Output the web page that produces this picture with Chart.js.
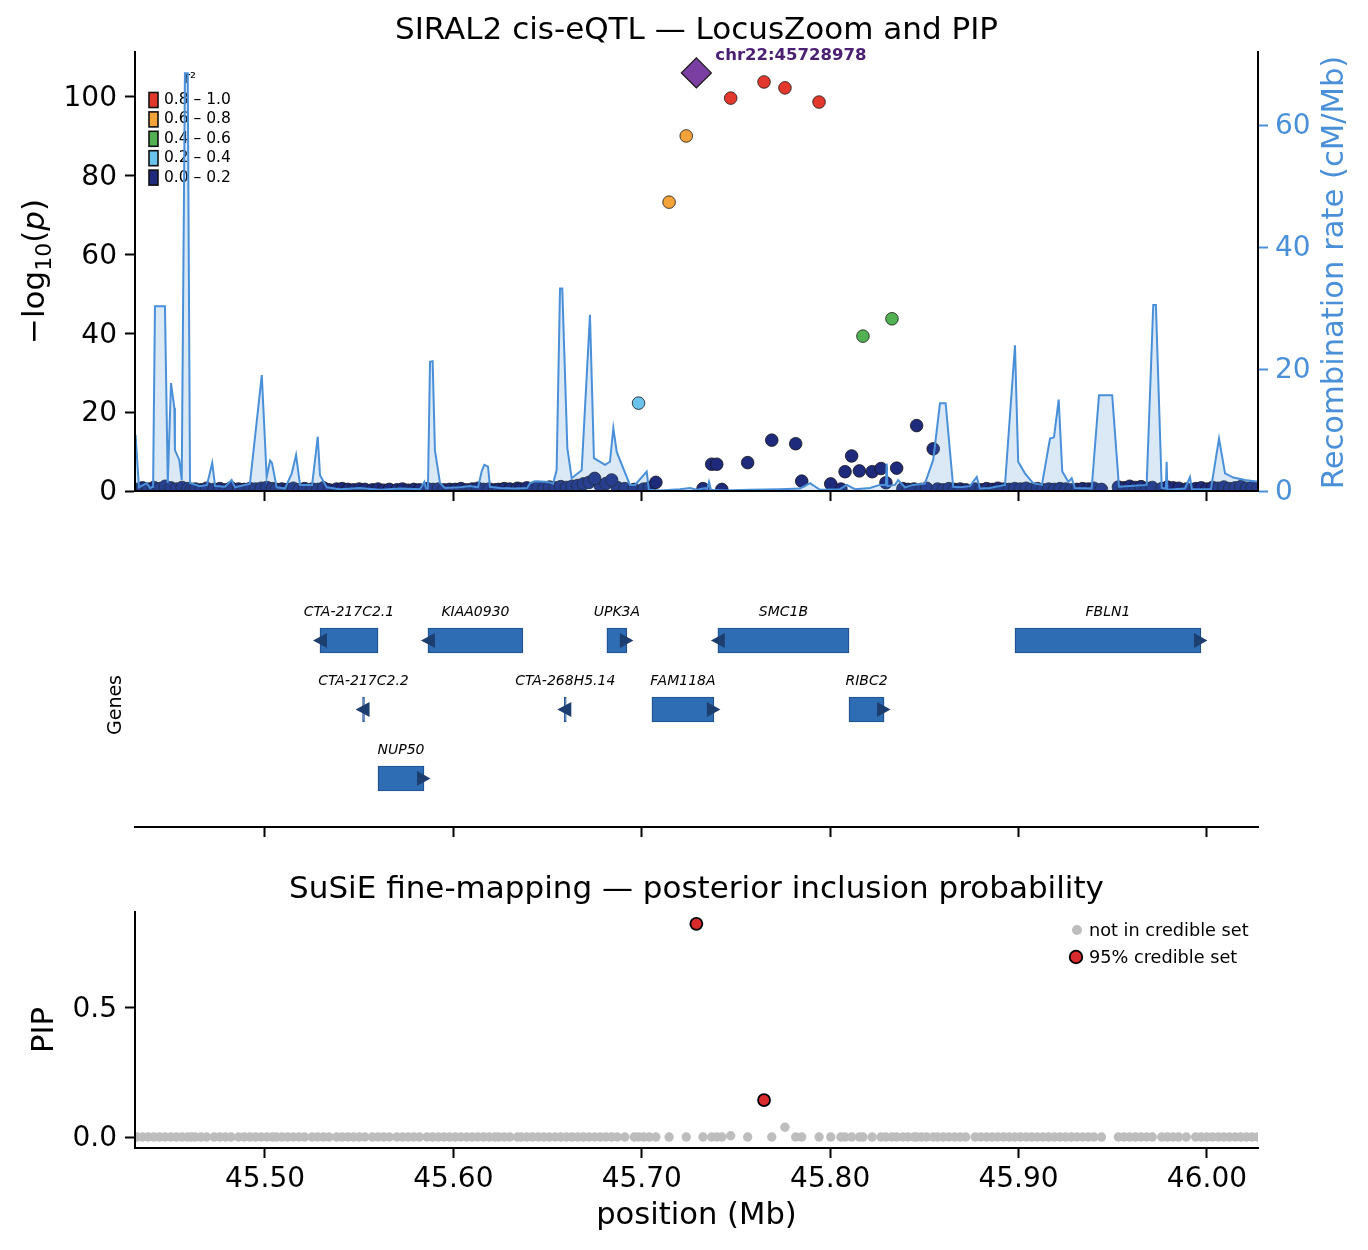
<!DOCTYPE html>
<html>
<head>
<meta charset="utf-8">
<title>SIRAL2 cis-eQTL — LocusZoom and PIP</title>
<script src="https://cdn.jsdelivr.net/npm/chart.js@4.4.1/dist/chart.umd.min.js"></script>
<style>
  html, body { margin: 0; padding: 0; background: #fff; }
  #wrap { position: relative; width: 1368px; height: 1250px; overflow: hidden; }
  #wrap canvas { position: absolute; left: 0; }
  #c-top   { top: 0; }
  #c-genes { top: 540px; }
  #c-pip   { top: 840px; }
</style>
</head>
<body>
<div id="wrap">
  <canvas id="c-top"   width="1368" height="540"></canvas>
  <canvas id="c-genes" width="1368" height="300"></canvas>
  <canvas id="c-pip"   width="1368" height="410"></canvas>
</div>
<script>
/* ── Ejes y ticks ─────────────────────────────────────────── */
const X_MIN = 45.431, X_MAX = 46.0271;
const X_TICKS      = [45.5, 45.6, 45.7, 45.8, 45.9, 46.0];
const LOGP_TICKS   = [0, 20, 40, 60, 80, 100];
const RECOMB_TICKS = [0, 20, 40, 60];
const PIP_TICKS    = [0, 0.5];

/* ── SNP principal y conjunto creíble ─────────────────────── */
const LEAD_ID   = 'chr22:45728978';
const LEAD_POS  = 45.728978;
const LEAD_LOGP = 106.1;
const LEAD_PIP  = 0.826;
const CS_POS    = [45.728978, 45.7649];

/* ── SNPs (posición Mb, -log10 p, r², PIP) ────────────────── */
const SNP_POS = [
  45.432, 45.435, 45.438, 45.441, 45.444, 45.447, 45.450, 45.453, 45.456, 45.459, 45.461,
  45.463, 45.466, 45.469, 45.473, 45.476, 45.479, 45.482, 45.486, 45.489, 45.492, 45.495, 45.498, 45.501, 45.504, 45.506,
  45.509, 45.512, 45.515, 45.518, 45.521, 45.525, 45.528, 45.531, 45.534, 45.538, 45.541, 45.544, 45.547, 45.550, 45.553,
  45.557, 45.560, 45.563, 45.566, 45.570, 45.573, 45.576, 45.579, 45.582, 45.586, 45.589, 45.592, 45.595, 45.598,
  45.601, 45.604, 45.607, 45.610, 45.613, 45.616, 45.619, 45.622,
  45.624, 45.627, 45.630, 45.634,
  45.636, 45.639, 45.642, 45.645, 45.648, 45.651, 45.654, 45.657, 45.660, 45.663, 45.666, 45.669, 45.672, 45.675, 45.678, 45.681, 45.684, 45.687,
  45.691, 45.696, 45.6983, 45.701, 45.704,
  45.7075, 45.7145, 45.7236, 45.7325, 45.7371, 45.7398, 45.7425, 45.7472, 45.7562, 45.7649, 45.7690, 45.7760, 45.7817, 45.7849, 45.7941, 45.8003,
  45.8057, 45.8079, 45.8114, 45.8155, 45.8174, 45.8223, 45.8270, 45.8296, 45.8328, 45.8353, 45.8386, 45.8413,
  45.8445, 45.8459, 45.8485, 45.8512, 45.8547, 45.8570, 45.8600, 45.8630, 45.8660, 45.8690, 45.8720,
  45.877, 45.880, 45.883, 45.886, 45.889, 45.892, 45.895, 45.898,
  45.901, 45.904, 45.907, 45.910, 45.913, 45.916, 45.919, 45.922, 45.925, 45.928, 45.931, 45.934, 45.937, 45.940, 45.944,
  45.953, 45.956, 45.959, 45.962, 45.965, 45.968, 45.971, 45.976, 45.979, 45.982, 45.985, 45.989,
  45.994, 45.997, 46.000, 46.003, 46.006, 46.009, 46.012, 46.015, 46.018, 46.021, 46.024, 46.027,
];
const SNP_LOGP = [
  0.4, 0.8, 0.5, 0.9, 0.6, 1.2, 0.8, 0.5, 0.9, 0.6, 0.4,
  0.5, 0.3, 0.7, 0.4, 0.6, 0.3, 0.8, 0.5, 0.4, 0.6, 0.5, 0.7, 0.9, 0.6, 0.4,
  0.5, 0.4, 0.7, 0.3, 0.6, 0.5, 0.4, 0.8, 0.3, 0.5, 0.6, 0.4, 0.3, 0.5, 0.4,
  0.3, 0.5, 0.2, 0.4, 0.3, 0.5, 0.2, 0.4, 0.3, 0.6, 0.4, 0.5, 0.3, 0.4,
  0.4, 0.6, 0.3, 0.5, 0.7, 0.4, 0.5, 0.3,
  0.4, 0.6, 0.5, 0.7,
  0.5, 0.8, 0.6, 0.9, 0.7, 1.0, 0.8, 1.1, 0.9, 1.2, 1.4, 1.8, 2.2, 3.2, 1.3, 1.9, 2.8, 0.9,
  0.6, 0.4, 22.3, 0.5, 0.8,
  2.2, 73.3, 90.1, 0.6, 6.8, 6.8, 0.4, 99.7, 7.2, 103.8, 12.9, 102.3, 12.0, 2.5, 98.7, 1.8,
  0.5, 4.9, 8.9, 5.1, 39.3, 4.9, 5.7, 2.1, 43.7, 5.8, 0.6, 0.4,
  0.5, 16.6, 0.4, 0.7, 10.7, 0.5, 0.3, 0.6, 0.4, 0.5, 0.3,
  0.5, 0.3, 0.6, 0.4, 0.7, 0.5, 0.4, 0.6,
  0.5, 0.7, 0.4, 0.6, 0.3, 0.5, 0.4, 0.6, 0.5, 0.3, 0.4, 0.6, 0.5, 0.7, 0.4,
  1.0, 0.8, 1.2, 0.9, 1.1, 0.7, 0.9, 0.6, 1.0, 0.8, 0.7, 0.5,
  0.6, 0.8, 0.5, 0.9, 0.7, 1.0, 0.6, 0.8, 1.1, 0.7, 0.9, 0.6,
];
const SNP_R2 = [
  0.05, 0.05, 0.05, 0.05, 0.05, 0.05, 0.05, 0.05, 0.05, 0.05, 0.05,
  0.05, 0.05, 0.05, 0.05, 0.05, 0.05, 0.05, 0.05, 0.05, 0.05, 0.05, 0.05, 0.05, 0.05, 0.05,
  0.05, 0.05, 0.05, 0.05, 0.05, 0.05, 0.05, 0.05, 0.05, 0.05, 0.05, 0.05, 0.05, 0.05, 0.05,
  0.05, 0.05, 0.05, 0.05, 0.05, 0.05, 0.05, 0.05, 0.05, 0.05, 0.05, 0.05, 0.05, 0.05,
  0.05, 0.05, 0.05, 0.05, 0.05, 0.05, 0.05, 0.05,
  0.05, 0.05, 0.05, 0.05,
  0.05, 0.05, 0.05, 0.05, 0.05, 0.05, 0.05, 0.05, 0.05, 0.05, 0.05, 0.05, 0.05, 0.08, 0.05, 0.05, 0.08, 0.05,
  0.05, 0.05, 0.30, 0.05, 0.05,
  0.10, 0.70, 0.70, 0.05, 0.10, 0.10, 0.05, 0.90, 0.10, 0.90, 0.12, 0.90, 0.12, 0.10, 0.90, 0.10,
  0.05, 0.10, 0.10, 0.10, 0.50, 0.10, 0.10, 0.10, 0.50, 0.10, 0.05, 0.05,
  0.05, 0.15, 0.05, 0.05, 0.15, 0.05, 0.05, 0.05, 0.05, 0.05, 0.05,
  0.05, 0.05, 0.05, 0.05, 0.05, 0.05, 0.05, 0.05,
  0.05, 0.05, 0.05, 0.05, 0.05, 0.05, 0.05, 0.05, 0.05, 0.05, 0.05, 0.05, 0.05, 0.05, 0.05,
  0.05, 0.05, 0.05, 0.05, 0.05, 0.05, 0.05, 0.05, 0.05, 0.05, 0.05, 0.05,
  0.05, 0.05, 0.05, 0.05, 0.05, 0.05, 0.05, 0.05, 0.05, 0.05, 0.05, 0.05,
];
const SNP_PIP = [
  0, 0, 0, 0, 0, 0, 0, 0, 0, 0, 0,
  0, 0, 0, 0, 0, 0, 0, 0, 0, 0, 0, 0, 0, 0, 0,
  0, 0, 0, 0, 0, 0, 0, 0, 0, 0, 0, 0, 0, 0, 0,
  0, 0, 0, 0, 0, 0, 0, 0, 0, 0, 0, 0, 0, 0,
  0, 0, 0, 0, 0, 0, 0, 0,
  0, 0, 0, 0,
  0, 0, 0, 0, 0, 0, 0, 0, 0, 0, 0, 0, 0, 0, 0, 0, 0, 0,
  0, 0, 0, 0, 0,
  0, 0, 0, 0, 0, 0, 0, 0.005, 0, 0.143, 0, 0.038, 0, 0, 0, 0,
  0, 0, 0, 0, 0, 0, 0, 0, 0, 0, 0, 0,
  0, 0, 0, 0, 0, 0, 0, 0, 0, 0, 0,
  0, 0, 0, 0, 0, 0, 0, 0,
  0, 0, 0, 0, 0, 0, 0, 0, 0, 0, 0, 0, 0, 0, 0,
  0, 0, 0, 0, 0, 0, 0, 0, 0, 0, 0, 0,
  0, 0, 0, 0, 0, 0, 0, 0, 0, 0, 0, 0,
];

/* ── Tasa de recombinación (cM/Mb) ────────────────────────── */
const RECOMB_POS = [
  45.4313, 45.4331, 45.4372, 45.4390, 45.4406, 45.4416, 45.4469, 45.4484, 45.4501, 45.4519,
  45.4522, 45.4545, 45.4558, 45.4575, 45.4590, 45.4602, 45.4655, 45.4692, 45.4720, 45.4735,
  45.4788, 45.4823, 45.4841, 45.4920, 45.4983, 45.5009, 45.5027, 45.5037, 45.5062, 45.5106,
  45.5142, 45.5165, 45.5186, 45.5250, 45.5280, 45.5292, 45.5328, 45.5398, 45.5504, 45.5610,
  45.5717, 45.5823, 45.5846, 45.5855, 45.5865, 45.5876, 45.5890, 45.5902, 45.5929, 45.5955,
  45.6035, 45.6088, 45.6131, 45.6150, 45.6164, 45.6184, 45.6194, 45.6247, 45.6327, 45.6391,
  45.6407, 45.6433, 45.6486, 45.6513, 45.6529, 45.6548, 45.6566, 45.6578, 45.6605, 45.6628,
  45.6681, 45.6725, 45.6746, 45.6805, 45.6831, 45.6849, 45.6867, 45.6937, 45.6964, 45.7026,
  45.7038, 45.7097, 45.7203, 45.7256, 45.7293, 45.7336, 45.7347, 45.7357, 45.7367, 45.7442,
  45.7574, 45.7734, 45.7840, 45.7893, 45.7946, 45.8052, 45.8088, 45.8132, 45.8211, 45.8264,
  45.8296, 45.8300, 45.8304, 45.8344, 45.8361, 45.8397, 45.8440, 45.8503, 45.8547, 45.8583,
  45.8613, 45.8653, 45.8689, 45.8742, 45.8778, 45.8795, 45.8848, 45.8928, 45.8981, 45.8998,
  45.9034, 45.9077, 45.9124, 45.9167, 45.9188, 45.9213, 45.9232, 45.9264, 45.9282, 45.9299,
  45.9388, 45.9427, 45.9497, 45.9533, 45.9591, 45.9680, 45.9715, 45.9729, 45.9760, 45.9782,
  45.9786, 45.9790, 45.9883, 45.9910, 45.9920, 46.0021, 46.0064, 46.0096, 46.0140, 46.0202,
  46.0271,
];
const RECOMB_RATE = [
  9.2, 0.6, 1.3, 0.5, 0.7, 30.3, 30.3, 1.3, 17.7, 13.6,
  6.7, 5.1, 1.8, 68.5, 68.5, 1.3, 0.8, 1.0, 4.6, 0.8,
  0.7, 1.8, 0.6, 1.2, 19.0, 2.3, 5.0, 4.6, 0.6, 0.4,
  2.9, 5.9, 1.0, 1.0, 8.9, 2.6, 0.6, 0.3, 0.5, 0.2,
  0.4, 0.3, 1.5, 0.4, 0.4, 21.2, 21.3, 6.7, 1.3, 0.5,
  0.6, 0.8, 0.6, 3.2, 4.3, 4.0, 0.7, 0.5, 0.4, 0.5,
  1.3, 1.6, 1.5, 1.4, 1.2, 3.4, 33.2, 33.2, 7.0, 2.1,
  3.4, 28.9, 5.4, 4.3, 4.8, 10.3, 6.4, 1.0, 1.0, 3.2,
  0.2, 0.1, 0.3, 0.5, 0.2, 0.5, 0.3, 1.5, 0.2, 0.1,
  0.2, 0.3, 0.4, 1.3, 0.2, 0.3, 1.0, 0.3, 0.5, 1.0,
  1.0, 4.5, 0.8, 1.0, 1.8, 0.6, 1.0, 1.2, 5.1, 14.4,
  14.4, 0.7, 0.6, 0.8, 2.3, 0.4, 0.5, 1.0, 23.9, 4.8,
  2.9, 1.3, 1.0, 8.6, 8.8, 15.0, 3.2, 1.5, 2.1, 0.5,
  0.4, 15.7, 15.7, 0.7, 0.8, 1.0, 30.5, 30.5, 0.5, 0.4,
  4.8, 0.2, 0.4, 2.3, 0.3, 0.3, 8.6, 2.9, 2.2, 1.8,
  1.5,
];

/* ── Genes ────────────────────────────────────────────────── */
const GENE_NAMES  = ['CTA-217C2.1', 'KIAA0930', 'UPK3A', 'SMC1B', 'FBLN1', 'CTA-217C2.2', 'CTA-268H5.14', 'FAM118A', 'RIBC2', 'NUP50'];
const GENE_START  = [45.5292, 45.5865, 45.6815, 45.7404, 45.8981, 45.5518, 45.6589, 45.7054, 45.8100, 45.5600];
const GENE_END    = [45.5600, 45.6369, 45.6921, 45.8100, 45.9968, 45.5528, 45.6599, 45.7383, 45.8286, 45.5844];
const GENE_STRAND = ['-', '-', '+', '-', '+', '-', '-', '+', '+', '+'];
const GENE_ROW    = [1, 1, 1, 1, 1, 2, 2, 2, 2, 3];

/* ── Leyendas ─────────────────────────────────────────────── */
const R2_LABELS = ['0.8 – 1.0', '0.6 – 0.8', '0.4 – 0.6', '0.2 – 0.4', '0.0 – 0.2'];
const R2_LOWER  = [0.8, 0.6, 0.4, 0.2, 0.0];
const PIP_LABELS = ['not in credible set', '95% credible set'];

/* ── Estilo ───────────────────────────────────────────────── */
const FONT  = "'DejaVu Sans', 'Liberation Sans', sans-serif";
const BLUE  = '#4a90d9';
const BLACK = '#000';

function r2Color(r2) {
  if (r2 >= 0.8) return '#e3392d';
  if (r2 >= 0.6) return '#f4a23a';
  if (r2 >= 0.4) return '#52b152';
  if (r2 >= 0.2) return '#6ac3ec';
  return '#1e2b7c';
}

const fixTicks = vals => scale => { scale.ticks = vals.map(v => ({ value: v })); };

function xAxis(height, showLabels) {
  return {
    type: 'linear', min: X_MIN, max: X_MAX, offset: false,
    afterBuildTicks: fixTicks(X_TICKS),
    afterFit: s => { s.height = height; },
    border: { display: true, color: BLACK, width: 2, z: 1 },
    grid:   { display: true, drawOnChartArea: false, drawTicks: true, tickLength: 10, tickWidth: 2, tickColor: BLACK },
    ticks:  { display: showLabels, autoSkip: false, maxRotation: 0, padding: 5, color: BLACK,
              font: { family: FONT, size: 28 }, callback: v => Number(v).toFixed(2) },
  };
}

function yAxis(opts) {
  return {
    type: 'linear', position: opts.position || 'left', min: opts.min, max: opts.max,
    afterBuildTicks: fixTicks(opts.ticks),
    afterFit: s => { s.width = opts.width; },
    border: { display: true, color: BLACK, width: 2, z: 1 },
    grid:   { display: true, drawOnChartArea: false, drawTicks: true, tickLength: 10, tickWidth: 2, tickColor: opts.color || BLACK },
    ticks:  { autoSkip: false, padding: opts.pad, labelOffset: 2, color: opts.color || BLACK,
              font: { family: FONT, size: 28 }, callback: opts.fmt },
  };
}

function rotatedText(ctx, text, x, y, font, color) {
  ctx.save();
  ctx.translate(x, y);
  ctx.rotate(-Math.PI / 2);
  ctx.font = font; ctx.fillStyle = color;
  ctx.textAlign = 'center'; ctx.textBaseline = 'middle';
  ctx.fillText(text, 0, 0);
  ctx.restore();
}

function plainText(ctx, text, x, y, font, color, align) {
  ctx.save();
  ctx.font = font; ctx.fillStyle = color;
  ctx.textAlign = align || 'center'; ctx.textBaseline = 'middle';
  ctx.fillText(text, x, y);
  ctx.restore();
}

// −log10(p) con subíndice, como mathtext
function drawLogLabel(ctx, x, y) {
  const parts = [
    ['−log', '31px ' + FONT, 0],
    ['10', '22px ' + FONT, 7],
    ['(', '31px ' + FONT, 0],
    ['p', 'italic 31px ' + FONT, 0],
    [')', '31px ' + FONT, 0],
  ];
  ctx.save();
  ctx.translate(x, y);
  ctx.rotate(-Math.PI / 2);
  ctx.fillStyle = BLACK; ctx.textAlign = 'left'; ctx.textBaseline = 'alphabetic';
  let w = 0;
  parts.forEach(p => { ctx.font = p[1]; w += ctx.measureText(p[0]).width; });
  let cx = -w / 2;
  parts.forEach(p => { ctx.font = p[1]; ctx.fillText(p[0], cx, 11 + p[2]); cx += ctx.measureText(p[0]).width; });
  ctx.restore();
}

const baseOptions = {
  responsive: false, animation: false, devicePixelRatio: 1, events: [],
  plugins: { legend: { display: false }, tooltip: { enabled: false } },
};

/* ── 1. LocusZoom ─────────────────────────────────────────── */
const drawOrder = SNP_POS.map((_, i) => i).sort((a, b) => SNP_R2[a] - SNP_R2[b]);

const topDecor = {
  id: 'topDecor',
  beforeDatasetsDraw(chart) {
    const ctx = chart.ctx;
    // leyenda r²
    plainText(ctx, 'r²', 190, 79, '15px ' + FONT, BLACK);
    R2_LABELS.forEach((lab, i) => {
      const cy = 100 + i * 19.4;
      ctx.save();
      ctx.fillStyle = r2Color(R2_LOWER[i] + 0.01);
      ctx.strokeStyle = '#111'; ctx.lineWidth = 1.6;
      ctx.fillRect(149, cy - 7.5, 9, 15);
      ctx.strokeRect(149, cy - 7.5, 9, 15);
      ctx.restore();
      plainText(ctx, lab, 164, cy, '15.5px ' + FONT, BLACK, 'left');
    });
  },
  afterDraw(chart) {
    const ctx = chart.ctx, a = chart.chartArea, sx = chart.scales.x, sy = chart.scales.y;
    plainText(ctx, 'SIRAL2 cis-eQTL — LocusZoom and PIP', (a.left + a.right) / 2, 31, '31px ' + FONT, BLACK);
    drawLogLabel(ctx, 33, (a.top + a.bottom) / 2);
    rotatedText(ctx, 'Recombination rate (cM/Mb)', 1335, (a.top + a.bottom) / 2 + 1, '30.6px ' + FONT, BLUE);
    plainText(ctx, LEAD_ID, sx.getPixelForValue(LEAD_POS) + 19, sy.getPixelForValue(LEAD_LOGP) - 17,
      'bold 16.5px ' + FONT, '#4b2072', 'left');
  },
};

new Chart(document.getElementById('c-top'), {
  type: 'scatter',
  data: {
    datasets: [
      {
        type: 'line', label: 'Recombination rate', yAxisID: 'y2',
        data: RECOMB_POS.map((p, i) => ({ x: p, y: RECOMB_RATE[i] })),
        borderColor: BLUE, borderWidth: 2, backgroundColor: 'rgba(74,144,217,0.2)',
        fill: 'origin', pointRadius: 0, tension: 0, order: 0, clip: 0,
      },
      {
        label: 'SNPs', yAxisID: 'y',
        data: drawOrder.map(i => ({ x: SNP_POS[i], y: SNP_LOGP[i] })),
        backgroundColor: drawOrder.map(i => r2Color(SNP_R2[i])),
        borderColor: '#151515', borderWidth: 0.8, pointRadius: 6.3, order: 1, clip: 0,
      },
      {
        label: LEAD_ID, yAxisID: 'y',
        data: [{ x: LEAD_POS, y: LEAD_LOGP }],
        pointStyle: 'rectRot', pointRadius: 15, backgroundColor: '#7b3fa3',
        borderColor: '#151515', borderWidth: 1.2, order: -1, clip: 0,
      },
    ],
  },
  options: {
    ...baseOptions,
    layout: { padding: { top: 52, left: 0, right: 0, bottom: 0 } },
    scales: {
      x:  xAxis(49, false),
      y:  yAxis({ min: 0, max: 111.4, ticks: LOGP_TICKS, width: 135, pad: 8, fmt: v => String(v) }),
      y2: yAxis({ position: 'right', min: 0, max: 72, ticks: RECOMB_TICKS, width: 110, pad: 7, color: BLUE, fmt: v => String(v) }),
    },
  },
  plugins: [topDecor],
});

/* ── 2. Pista de genes ────────────────────────────────────── */
const genesDecor = {
  id: 'genesDecor',
  afterDatasetsDraw(chart) {
    const ctx = chart.ctx, sx = chart.scales.x, sy = chart.scales.y;
    GENE_NAMES.forEach((name, i) => {
      const x0 = sx.getPixelForValue(GENE_START[i]);
      const x1 = sx.getPixelForValue(GENE_END[i]);
      const yc = sy.getPixelForValue(GENE_ROW[i]);
      ctx.save();
      ctx.fillStyle = '#1d3f70';
      ctx.beginPath();
      if (GENE_STRAND[i] === '-') {
        ctx.moveTo(x0 - 7, yc); ctx.lineTo(x0 + 7, yc - 7.5); ctx.lineTo(x0 + 7, yc + 7.5);
      } else {
        ctx.moveTo(x1 + 6.5, yc); ctx.lineTo(x1 - 7, yc - 7.5); ctx.lineTo(x1 - 7, yc + 7.5);
      }
      ctx.closePath(); ctx.fill();
      ctx.restore();
      plainText(ctx, name, (x0 + x1) / 2, yc - 12.5 - 16, 'italic 14px ' + FONT, BLACK);
    });
  },
  afterDraw(chart) {
    rotatedText(chart.ctx, 'Genes', 116, 165, '19px ' + FONT, BLACK);
  },
};

new Chart(document.getElementById('c-genes'), {
  type: 'bar',
  data: {
    datasets: [{
      label: 'Genes',
      data: GENE_NAMES.map((_, i) => ({ x: [GENE_START[i], GENE_END[i]], y: GENE_ROW[i] })),
      backgroundColor: '#2e6db4', borderColor: '#1f4e8c', borderWidth: 1.2, borderSkipped: false,
      barThickness: 25, grouped: false,
    }],
  },
  options: {
    ...baseOptions,
    indexAxis: 'y',
    layout: { padding: { top: 20, left: 135, right: 110, bottom: 0 } },
    scales: {
      x: xAxis(13, false),
      y: { type: 'linear', display: false, offset: false, reverse: true, min: -0.1667, max: 3.7029 },
    },
  },
  plugins: [genesDecor],
});

/* ── 3. SuSiE PIP ─────────────────────────────────────────── */
const inCS = p => CS_POS.includes(p);
const csPoints = [{ x: LEAD_POS, y: LEAD_PIP }].concat(
  SNP_POS.map((p, i) => ({ x: p, y: SNP_PIP[i] })).filter(d => inCS(d.x)));
const grayPoints = SNP_POS.map((p, i) => ({ x: p, y: SNP_PIP[i] })).filter(d => !inCS(d.x));

const pipDecor = {
  id: 'pipDecor',
  afterDraw(chart) {
    const ctx = chart.ctx, a = chart.chartArea;
    plainText(ctx, 'SuSiE fine-mapping — posterior inclusion probability', (a.left + a.right) / 2, 50, '31px ' + FONT, BLACK);
    rotatedText(ctx, 'PIP', 45, (a.top + a.bottom) / 2, '30.6px ' + FONT, BLACK);
    plainText(ctx, 'position (Mb)', (a.left + a.right) / 2, 376, '30.6px ' + FONT, BLACK);
    // leyenda
    ctx.save();
    ctx.fillStyle = '#bdbdbd';
    ctx.beginPath(); ctx.arc(1077, 90, 5, 0, Math.PI * 2); ctx.fill();
    ctx.fillStyle = '#d92b2b'; ctx.strokeStyle = BLACK; ctx.lineWidth = 1.8;
    ctx.beginPath(); ctx.arc(1076, 117, 6.3, 0, Math.PI * 2); ctx.fill(); ctx.stroke();
    ctx.restore();
    plainText(ctx, PIP_LABELS[0], 1089, 91, '17.7px ' + FONT, BLACK, 'left');
    plainText(ctx, PIP_LABELS[1], 1089, 118, '17.7px ' + FONT, BLACK, 'left');
  },
};

new Chart(document.getElementById('c-pip'), {
  type: 'scatter',
  data: {
    datasets: [
      {
        label: PIP_LABELS[1], data: csPoints,
        backgroundColor: '#d92b2b', borderColor: BLACK, borderWidth: 1.8, pointRadius: 6, order: 0,
      },
      {
        label: PIP_LABELS[0], data: grayPoints,
        backgroundColor: '#bdbdbd', borderWidth: 0, pointRadius: 4.7, order: 1,
      },
    ],
  },
  options: {
    ...baseOptions,
    layout: { padding: { top: 72, left: 0, right: 110, bottom: 0 } },
    scales: {
      x: xAxis(102, true),
      y: yAxis({ min: -0.0426, max: 0.872, ticks: PIP_TICKS, width: 135, pad: 8, fmt: v => Number(v).toFixed(1) }),
    },
  },
  plugins: [pipDecor],
});
</script>
</body>
</html>
